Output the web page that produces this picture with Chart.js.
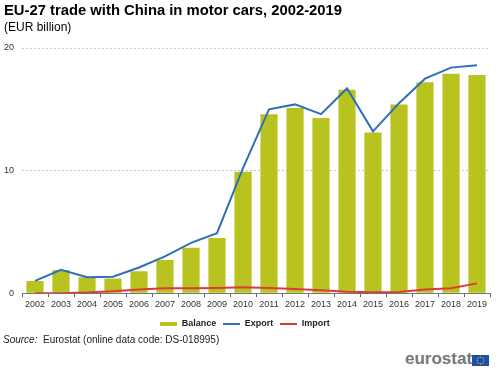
<!DOCTYPE html>
<html>
<head>
<meta charset="utf-8">
<script src="https://cdn.jsdelivr.net/npm/chart.js@4.4.1/dist/chart.umd.min.js"></script>
<style>
  html, body { margin: 0; padding: 0; background: #fff; }
  body { width: 500px; height: 383px; position: relative; overflow: hidden; font-family: "Liberation Sans", Arial, sans-serif; }
  #title { position: absolute; left: 4px; top: 2px; font-size: 14.8px; font-weight: bold; color: #000; white-space: nowrap; }
  #subtitle { position: absolute; left: 4px; top: 20px; font-size: 12px; color: #000; white-space: nowrap; }
  #wrap { position: absolute; left: 0; top: 0; width: 500px; height: 338px; }
  #source { position: absolute; left: 3px; top: 334px; font-size: 10px; color: #222; white-space: nowrap; }
  #logo { position: absolute; left: 405px; top: 349px; height: 20px; }
  #logotext { position: absolute; left: 0; top: 0; font-size: 17px; font-weight: bold; color: #777; }
  #flag { position: absolute; left: 67px; top: 6px; }
</style>
</head>
<body>
<div id="wrap"><canvas id="c"></canvas></div>
<div id="title">EU-27 trade with China in motor cars, 2002-2019</div>
<div id="subtitle">(EUR billion)</div>
<div id="source"><i>Source:</i>&nbsp; Eurostat (online data code: DS-018995)</div>
<div id="logo"><span id="logotext">eurostat</span><canvas id="flag" width="17" height="11"></canvas></div>
<script>
const years = ['2002','2003','2004','2005','2006','2007','2008','2009','2010','2011','2012','2013','2014','2015','2016','2017','2018','2019'];
const balance = [1.0, 1.9, 1.3, 1.2, 1.8, 2.7, 3.7, 4.5, 9.9, 14.6, 15.1, 14.3, 16.6, 13.1, 15.4, 17.2, 17.9, 17.8];
const exportVals = [1.0, 1.9, 1.3, 1.35, 2.1, 3.0, 4.1, 4.9, 10.2, 15.0, 15.4, 14.6, 16.7, 13.2, 15.5, 17.5, 18.4, 18.6];
const importVals = [0.0, 0.0, 0.05, 0.15, 0.3, 0.4, 0.4, 0.42, 0.48, 0.42, 0.35, 0.25, 0.12, 0.08, 0.1, 0.3, 0.4, 0.8];
const yTicks = [0, 10, 20];

const GREEN = '#b9c31f', BLUE = '#2f6fba', RED = '#dd3a3c';
const FONT = '"Liberation Sans", Arial, sans-serif';

function swatch(color, w, h) {
  const cv = document.createElement('canvas');
  cv.width = w; cv.height = h;
  const g = cv.getContext('2d');
  g.fillStyle = color; g.fillRect(0, 0, w, h);
  return cv;
}

(function(){
  const f = document.getElementById('flag').getContext('2d');
  f.fillStyle = '#1d4fa6'; f.fillRect(0, 0, 17, 11);
  f.fillStyle = '#f5d21c';
  for (let i = 0; i < 12; i++) {
    const a = i * Math.PI / 6;
    f.beginPath();
    f.arc(8.5 + 3.4 * Math.cos(a), 5.5 + 3.4 * Math.sin(a), 0.55, 0, Math.PI * 2);
    f.fill();
  }
})();

Chart.defaults.font.family = FONT;
Chart.defaults.color = '#333';

new Chart(document.getElementById('c'), {
  data: {
    labels: years,
    datasets: [
      { type: 'bar', label: 'Balance', data: balance, backgroundColor: GREEN, order: 2,
        barPercentage: 0.66, categoryPercentage: 1.0, pointStyle: swatch(GREEN, 17, 4) },
      { type: 'line', label: 'Export', data: exportVals, borderColor: BLUE, backgroundColor: BLUE,
        borderWidth: 2, pointRadius: 0, tension: 0, order: 1, pointStyle: swatch(BLUE, 17, 2) },
      { type: 'line', label: 'Import', data: importVals, borderColor: RED, backgroundColor: RED,
        borderWidth: 2, pointRadius: 0, tension: 0, order: 0, pointStyle: swatch(RED, 17, 2) }
    ]
  },
  options: {
    responsive: true,
    maintainAspectRatio: false,
    animation: false,
    layout: { padding: { top: 48, right: 10, left: 0, bottom: 0 } },
    plugins: {
      tooltip: { enabled: false },
      legend: {
        position: 'bottom',
        labels: {
          usePointStyle: true,
          pointStyleWidth: 17,
          padding: 7,
          color: '#222',
          font: { size: 9, weight: 'bold' },
          sort: (a, b) => a.datasetIndex - b.datasetIndex
        }
      }
    },
    scales: {
      x: {
        offset: true,
        grid: { display: true, drawOnChartArea: false, drawTicks: true, tickLength: 4, offset: true, color: '#666' },
        border: { display: true, color: '#777' },
        ticks: { font: { size: 9 }, color: '#333', padding: 2, maxRotation: 0, autoSkip: false }
      },
      y: {
        min: 0, max: 20,
        afterBuildTicks: (s) => { s.ticks = yTicks.map(v => ({ value: v })); },
        afterFit: (s) => { s.width = 22; },
        grid: {
          drawTicks: false,
          color: (ctx) => ctx.tick && ctx.tick.value === 0 ? 'rgba(0,0,0,0)' : '#c8c8c8',
          lineWidth: 1
        },
        border: { display: false, dash: [2, 2] },
        ticks: { font: { size: 9 }, color: '#333', padding: 8 }
      }
    }
  }
});
</script>
</body>
</html>
